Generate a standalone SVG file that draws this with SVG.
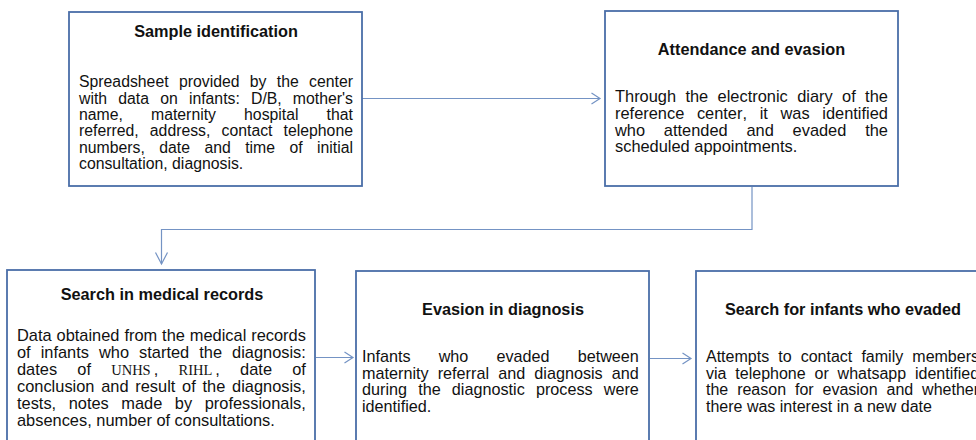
<svg xmlns="http://www.w3.org/2000/svg" width="976" height="440" viewBox="0 0 976 440">
<style>
.box{fill:#fff;stroke:#4a6ea8;stroke-width:1.8}
.t{font-family:"Liberation Sans",Arial,sans-serif;font-weight:bold;font-size:16.3px;fill:#111;text-anchor:middle;font-kerning:none}
.b{font-family:"Liberation Sans",Arial,sans-serif;fill:#111;font-kerning:none}
.s{font-family:"Liberation Serif","Times New Roman",serif}
.c{fill:none;stroke:#7493c4;stroke-width:1.2}
</style>
<rect width="976" height="440" fill="#fff"/>
<g id="connectors">
<path class="c" d="M362 98.5H600"/>
<path class="c" d="M591.5 93L600 98.5L591.5 104"/>
<path class="c" d="M752 187V229.5H161.5V264"/>
<path class="c" d="M155.5 252.5L161.5 264L167.5 252.5"/>
<path class="c" d="M316 357.5H353"/>
<path class="c" d="M344.5 352L353 357.5L344.5 363"/>
<path class="c" d="M650 358.5H691"/>
<path class="c" d="M682.5 353L691 358.5L682.5 364"/>
</g>
<g id="sample-identification">
<rect class="box" x="69" y="12" width="293" height="174"/>
<text class="t" x="216" y="37">Sample identification</text>
<text class="b" font-size="15.8">
<tspan x="79" y="87.3" word-spacing="5.93">Spreadsheet provided by the center</tspan>
<tspan x="79" y="103.6" word-spacing="6.77">with data on infants: D/B, mother's</tspan>
<tspan x="79" y="119.9" word-spacing="23.71">name, maternity hospital that</tspan>
<tspan x="79" y="136.2" word-spacing="6.73">referred, address, contact telephone</tspan>
<tspan x="79" y="152.5" word-spacing="10.01">numbers, date and time of initial</tspan>
<tspan x="79" y="168.8">consultation, diagnosis.</tspan>
</text>
</g>
<g id="attendance-evasion">
<rect class="box" x="605" y="11" width="293" height="175"/>
<text class="t" x="751.5" y="55">Attendance and evasion</text>
<text class="b" font-size="16.4">
<tspan x="615" y="102" word-spacing="4.83">Through the electronic diary of the</tspan>
<tspan x="615" y="118.8" word-spacing="8.09">reference center, it was identified</tspan>
<tspan x="615" y="135.6" word-spacing="14.23">who attended and evaded the</tspan>
<tspan x="615" y="152.4">scheduled appointments.</tspan>
</text>
</g>
<g id="medical-records">
<rect class="box" x="7" y="270" width="308" height="180"/>
<text class="t" x="162" y="300">Search in medical records</text>
<text class="b" font-size="16.4">
<tspan x="17" y="340.7" word-spacing="0.38">Data obtained from the medical records</tspan>
<tspan x="17" y="357.7" word-spacing="5.47">of infants who started the diagnosis:</tspan>
<tspan x="17" y="374.7">dates</tspan><tspan x="77.3" y="374.7">of</tspan><tspan class="s" font-size="14.5" x="111.2" y="374.7">UNHS</tspan><tspan x="153.7" y="374.7">,</tspan><tspan class="s" font-size="14.5" x="178.5" y="374.7">RIHL</tspan><tspan x="215.3" y="374.7">,</tspan><tspan x="240.1" y="374.7">date</tspan><tspan x="292.2" y="374.7">of</tspan>
<tspan x="17" y="391.7" word-spacing="2.19">conclusion and result of the diagnosis,</tspan>
<tspan x="17" y="408.7" word-spacing="7.98">tests, notes made by professionals,</tspan>
<tspan x="17" y="425.7">absences, number of consultations.</tspan>
</text>
</g>
<g id="evasion-diagnosis">
<rect class="box" x="356" y="271" width="293" height="180"/>
<text class="t" x="503" y="315">Evasion in diagnosis</text>
<text class="b" font-size="16.2">
<tspan x="362" y="362" word-spacing="23.59">Infants who evaded between</tspan>
<tspan x="362" y="378.6" word-spacing="4.65">maternity referral and diagnosis and</tspan>
<tspan x="362" y="395.2" word-spacing="6.67">during the diagnostic process were</tspan>
<tspan x="362" y="411.8">identified.</tspan>
</text>
</g>
<g id="search-infants">
<rect class="box" x="696" y="271" width="293" height="180"/>
<text class="t" x="843" y="314.5">Search for infants who evaded</text>
<text class="b" font-size="16">
<tspan x="706" y="362" word-spacing="4.67">Attempts to contact family members</tspan>
<tspan x="706" y="378.6" word-spacing="4.44">via telephone or whatsapp identified</tspan>
<tspan x="706" y="395.2" word-spacing="4.44">the reason for evasion and whether</tspan>
<tspan x="706" y="411.8">there was interest in a new date</tspan>
</text>
</g>
</svg>
